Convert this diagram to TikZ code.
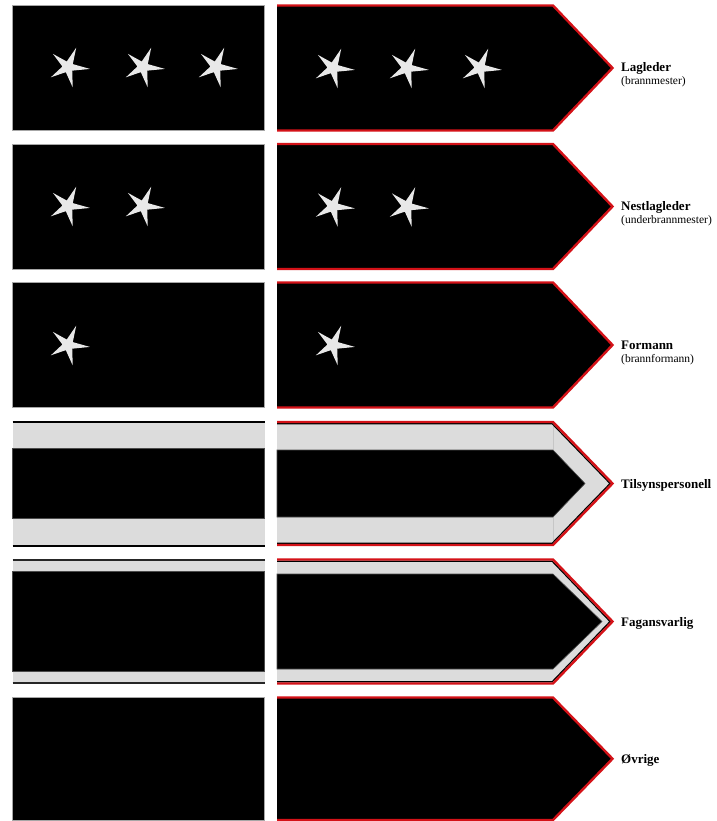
\documentclass[tikz,border=0pt]{standalone}
\usepackage{fontspec}
\setmainfont{Liberation Serif}
\definecolor{starcol}{RGB}{232,232,232}
\definecolor{bandgray}{RGB}{220,220,220}
\definecolor{trimred}{RGB}{212,18,24}
\newcommand\epstar[2]{\fill[starcol, shift={(#1,#2)}] (5:22) -- (-31:5.6) -- (-67:21) -- (-103:5.6) -- (-139:20) -- (-175:5.6) -- (-211:20) -- (-247:5.6) -- (-283:21) -- (-319:5.6) -- cycle;}
\begin{document}
\begin{tikzpicture}[x=1pt,y=-1pt,
  leftbox/.style={fill=black, draw=gray!70, line width=0.8},
  redline/.style={draw=trimred, line width=2.4, line join=miter},
  innerline/.style={draw=black, line width=1.2},
  bandedge/.style={draw=gray!60!black, line width=0.6},
  lbl/.style={font=\bfseries\fontsize{13}{15}\selectfont, anchor=base west, inner sep=0},
  sublbl/.style={font=\fontsize{11.5}{13}\selectfont, anchor=base west, inner sep=0}]
\useasboundingbox (0,0) rectangle (716,821);
\fill[white] (0,0) rectangle (716,821);

% plain black rows (1,2,3,6)
\foreach \t/\b in {5.5/130.5, 144/269, 282.5/407.5, 697.5/820}{
  \filldraw[leftbox] (12.5,\t) rectangle (264.5,\b);
  \fill[black] (277,\t) -- (553,\t) -- (612.5,{(\t+\b)/2}) -- (553,\b) -- (277,\b) -- cycle;
  \draw[redline] (277,\t) -- (553,\t) -- (612.5,{(\t+\b)/2}) -- (553,\b) -- (277,\b);
}

% stars
\epstar{68}{67}\epstar{143}{67}\epstar{216}{67}
\epstar{333}{68}\epstar{407}{68}\epstar{480}{68}
\epstar{68}{206}\epstar{143}{206}
\epstar{333}{206.5}\epstar{407}{206.5}
\epstar{68}{345}
\epstar{333}{345}

% row 4: Tilsynspersonell
\fill[bandgray] (12.5,422) rectangle (264.5,545.5);
\filldraw[fill=black, bandedge] (12.5,448) rectangle (264.5,518);
\draw[black, line width=2] (12.5,422) -- (264.5,422) (12.5,545.5) -- (264.5,545.5);
\fill[bandgray] (277,422) -- (553,422) -- (612.5,483.5) -- (553,545) -- (277,545) -- cycle;
\draw[gray!45, line width=0.6] (553,424) -- (553,543);
\filldraw[fill=black, bandedge] (277,450) -- (553,450) -- (585,483.5) -- (553,517) -- (277,517) -- cycle;
\draw[innerline] (277,423.8) -- (552.2,423.8) -- (610,483.5) -- (552.2,543.2) -- (277,543.2);
\draw[redline] (277,422) -- (553,422) -- (612.5,483.5) -- (553,545) -- (277,545);

% row 5: Fagansvarlig
\fill[bandgray] (12.5,559.5) rectangle (264.5,683.5);
\filldraw[fill=black, bandedge] (12.5,571) rectangle (264.5,671.5);
\draw[black!85, line width=2] (12.5,559.5) -- (264.5,559.5) (12.5,683) -- (264.5,683);
\fill[bandgray] (277,559.5) -- (553,559.5) -- (612.5,621.5) -- (553,683.5) -- (277,683.5) -- cycle;
\filldraw[fill=black, bandedge] (277,574) -- (553,574) -- (602,621.5) -- (553,669) -- (277,669) -- cycle;
\draw[innerline] (277,561.3) -- (552.2,561.3) -- (610,621.5) -- (552.2,681.7) -- (277,681.7);
\draw[redline] (277,559.5) -- (553,559.5) -- (612.5,621.5) -- (553,683.5) -- (277,683.5);

% labels
\node[lbl] (l1) at (621,72) {Lagleder};
\node[sublbl] (s1) at (621,85) {(brannmester)};
\node[lbl] (l2) at (621,210.5) {Nestlagleder};
\node[sublbl] (s2) at (621,223.5) {(underbrannmester)};
\node[lbl] (l3) at (621,349) {Formann};
\node[sublbl] (s3) at (621,362) {(brannformann)};
\node[lbl] (l4) at (621,488) {Tilsynspersonell};
\node[lbl] (l5) at (621,626) {Fagansvarlig};
\node[lbl] (l6) at (621,763) {Øvrige};
\end{tikzpicture}
\end{document}
